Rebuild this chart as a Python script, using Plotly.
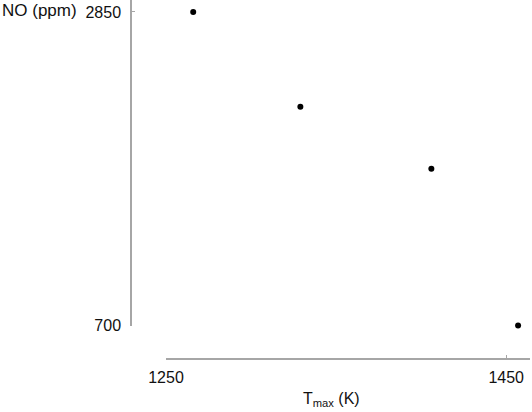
import plotly.graph_objects as go

# data
t_max = [1266, 1329, 1406, 1457]      # K
no_ppm = [2850, 2200, 1775, 700]      # ppm

x_ticks = [1250, 1450]
y_ticks = [700, 2850]

W, H = 532, 412
axis_col = '#a6a6a6'
font = dict(family='Liberation Sans, Arial, sans-serif', size=16, color='#111111')

fig = go.Figure()
fig.add_trace(go.Scatter(
    x=t_max, y=no_ppm, mode='markers',
    marker=dict(color='black', size=6),
    cliponaxis=False, showlegend=False,
))

fig.update_layout(
    template='none',
    width=W, height=H,
    margin=dict(l=0, r=0, t=0, b=0, autoexpand=False),
    paper_bgcolor='white', plot_bgcolor='white',
    font=font,
    xaxis=dict(
        domain=[166 / W, 530 / W],
        range=[1250, 1464],
        anchor='free', position=(H - 359) / H,
        automargin=False,
        showgrid=False, zeroline=False,
        showline=True, linecolor=axis_col, linewidth=1.5,
        tickmode='array', tickvals=x_ticks,
        ticks='inside', ticklen=3, tickcolor=axis_col, tickwidth=1,
        ticklabelstandoff=4,
    ),
    yaxis=dict(
        domain=[(H - 325.5) / H, 1.0],
        range=[700, 2932],
        anchor='free', position=131 / W,
        automargin=False,
        showgrid=False, zeroline=False,
        showline=True, linecolor=axis_col, linewidth=1.5,
        tickmode='array', tickvals=y_ticks,
        ticks='inside', ticklen=3, tickcolor=axis_col, tickwidth=1,
        ticklabelstandoff=6,
    ),
    annotations=[
        dict(text='NO (ppm)', xref='paper', yref='paper',
             x=0, y=(H - 11) / H, xanchor='left', yanchor='middle',
             showarrow=False, font=dict(font, size=17)),
        dict(text='T<sub>max</sub> (K)', xref='paper', yref='paper',
             x=331 / W, y=(H - 399) / H, xanchor='center', yanchor='middle',
             showarrow=False, font=font),
    ],
)

fig.write_html('out.html', config={'displayModeBar': False},
               post_script="document.body.style.margin='0';")
